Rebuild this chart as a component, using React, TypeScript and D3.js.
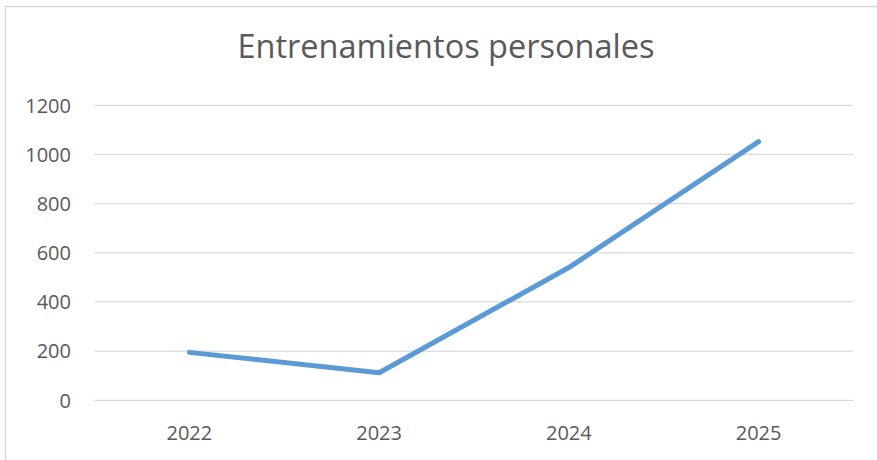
import * as d3 from "d3";

const years = ["2022", "2023", "2024", "2025"];
const sessions = [195, 112, 540, 1052];
const yTicks = [0, 200, 400, 600, 800, 1000, 1200];
const chartTitle = "Entrenamientos personales";

export default function App() {
  const width = 877;
  const height = 460;
  const plot = { left: 94.5, right: 853.5, top: 105.3, bottom: 400.3 };
  const font = "'Open Sans', 'Liberation Sans', sans-serif";
  const textColor = "#595959";

  const x = d3.scaleBand().domain(years).range([plot.left, plot.right]);
  const y = d3.scaleLinear().domain([0, 1200]).range([plot.bottom, plot.top]);

  const line = d3
    .line<number>()
    .x((_, i) => (x(years[i]) ?? 0) + x.bandwidth() / 2)
    .y((d) => y(d));

  return (
    <div style={{ position: "fixed", left: 0, top: 0 }}>
      <svg width={width} height={height} style={{ display: "block" }} fontFamily={font}>
        <rect x={0} y={0} width={width} height={height} fill="#fff" />
        {/* chart frame, runs off the right and bottom edges */}
        <rect x={5.5} y={6.5} width={920} height={520} fill="none" stroke="#d9d9d9" strokeWidth={1.5} />

        <text x={446} y={58} textAnchor="middle" fontSize={32.5} fill={textColor}>
          {chartTitle}
        </text>

        {/* grid + y labels */}
        {yTicks.map((t) => (
          <g key={t}>
            <line x1={plot.left} x2={plot.right} y1={y(t)} y2={y(t)} stroke="#d9d9d9" strokeWidth={1.3} />
            <text x={71} y={y(t)} dy="0.36em" textAnchor="end" fontSize={20} fill={textColor}>
              {t}
            </text>
          </g>
        ))}

        {/* x labels */}
        {years.map((yr) => (
          <text
            key={yr}
            x={(x(yr) ?? 0) + x.bandwidth() / 2}
            y={439.5}
            textAnchor="middle"
            fontSize={20}
            fill={textColor}
          >
            {yr}
          </text>
        ))}

        <path
          d={line(sessions) ?? ""}
          fill="none"
          stroke="#5b9bd5"
          strokeWidth={5}
          strokeLinecap="round"
          strokeLinejoin="round"
        />
      </svg>
    </div>
  );
}
